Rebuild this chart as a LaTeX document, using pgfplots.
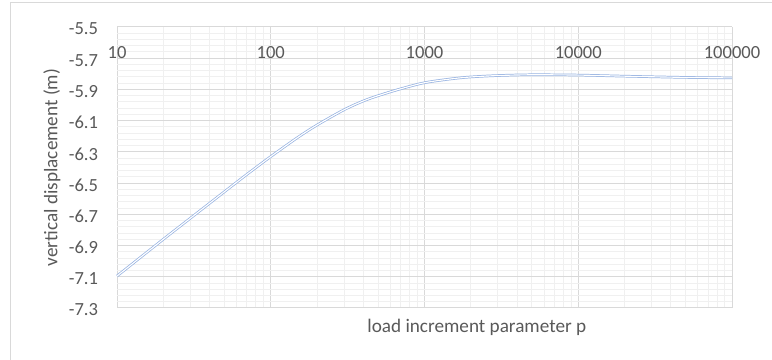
\documentclass[border=0pt]{standalone}
\usepackage{fontspec}
\setmainfont{Carlito}
\usepackage{pgfplots}
\pgfplotsset{compat=1.18}
\definecolor{txt}{RGB}{89,89,89}
\definecolor{majgrid}{RGB}{217,217,217}
\definecolor{mingrid}{RGB}{240,240,240}
\definecolor{serie}{RGB}{150,178,225}
\begin{document}
\begin{tikzpicture}
\useasboundingbox (0,0) rectangle (579pt,270pt);
\draw[majgrid, line width=0.75pt] (7.5pt,-5pt) -- (7.5pt,267.75pt) -- (590pt,267.75pt);
\begin{axis}[
  at={(87.75pt,39pt)}, anchor=south west,
  scale only axis, width=461.25pt, height=210.75pt,
  xmode=log, xmin=10, xmax=100000, ymin=-7.3, ymax=-5.5,
  enlargelimits=false,
  xtick={10,100,1000,10000,100000},
  xticklabels={10,100,1000,10000,100000},
  ytick={-7.3,-7.1,-6.9,-6.7,-6.5,-6.3,-6.1,-5.9,-5.7,-5.5},
  yticklabels={-7.3,-7.1,-6.9,-6.7,-6.5,-6.3,-6.1,-5.9,-5.7,-5.5},
  minor y tick num=4,
  grid=both,
  major grid style={majgrid, line width=0.75pt},
  minor grid style={mingrid, line width=0.75pt},
  axis line style={draw=none},
  major tick length=0pt, minor tick length=0pt,
  tick style={draw=none},
  xticklabel pos=upper,
  xticklabel style={anchor=base, yshift=-23.5pt, inner sep=0pt, font=\fontsize{13.9}{16}\selectfont, text=txt},
  yticklabel style={anchor=east, xshift=-14pt, yshift=-1.5pt, inner sep=0pt, font=\fontsize{13.9}{16}\selectfont, text=txt},
  xlabel={load increment parameter p},
  ylabel={vertical displacement (m)},
  xlabel style={at={(axis description cs:0.585,-0.0688)}, anchor=center, font=\fontsize{14.4}{17}\selectfont, text=txt},
  ylabel style={at={(axis description cs:-0.1057,0.5)}, anchor=center, font=\fontsize{14.4}{17}\selectfont, text=txt},
  clip=false,
]
\addplot[serie, line width=0.55pt, double=white, double distance=0.85pt, smooth, tension=0.5, no markers] coordinates {
(10,-7.095) (20,-6.860) (30,-6.725) (50,-6.555) (70,-6.444) (100,-6.330)
(150,-6.207) (200,-6.128) (300,-6.030) (400,-5.974) (500,-5.940) (700,-5.896)
(1000,-5.857) (1500,-5.832) (2000,-5.820) (3000,-5.811) (5000,-5.806)
(10000,-5.808) (20000,-5.815) (50000,-5.823) (100000,-5.826)
};
\end{axis}
\end{tikzpicture}
\end{document}
